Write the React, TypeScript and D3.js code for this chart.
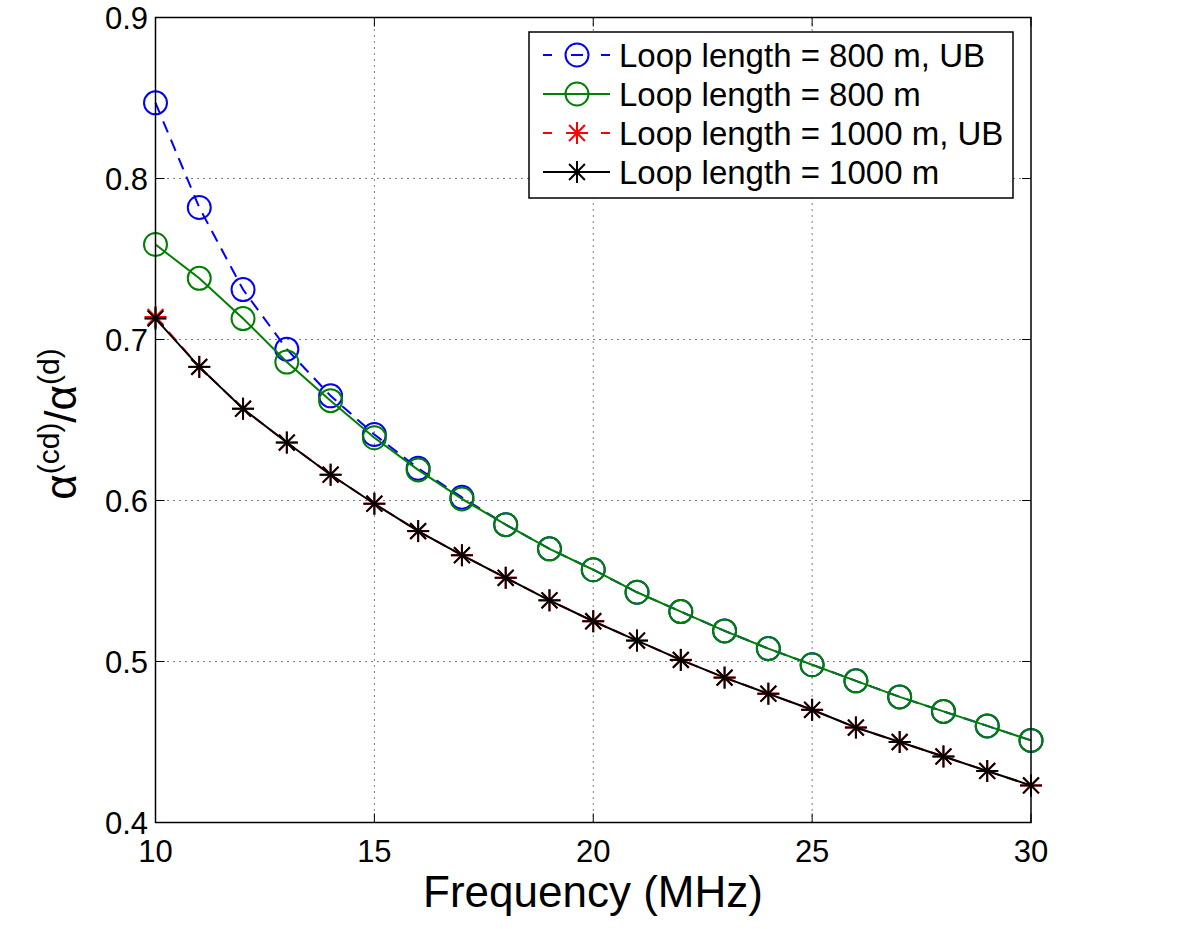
import React from "react";
import * as d3 from "d3";

const freqs = [10, 11, 12, 13, 14, 15, 16, 17, 18, 19, 20, 21, 22, 23, 24, 25, 26, 27, 28, 29, 30];
const loop800UB = [0.847, 0.782, 0.731, 0.694, 0.665, 0.641, 0.620, 0.602, 0.585, 0.570, 0.557, 0.543, 0.531, 0.519, 0.508, 0.498, 0.488, 0.478, 0.469, 0.460, 0.451];
const loop800 = [0.759, 0.738, 0.713, 0.686, 0.662, 0.639, 0.619, 0.601, 0.585, 0.570, 0.557, 0.543, 0.531, 0.519, 0.508, 0.498, 0.488, 0.478, 0.469, 0.460, 0.451];
const loop1000UB = [0.714, 0.683, 0.657, 0.636, 0.616, 0.598, 0.581, 0.566, 0.552, 0.538, 0.525, 0.513, 0.501, 0.490, 0.480, 0.470, 0.459, 0.450, 0.441, 0.432, 0.423];
const loop1000 = [0.713, 0.683, 0.657, 0.636, 0.616, 0.598, 0.581, 0.566, 0.552, 0.538, 0.525, 0.513, 0.501, 0.490, 0.480, 0.470, 0.459, 0.450, 0.441, 0.432, 0.423];
const xTicks = [10, 15, 20, 25, 30];
const yTicks = [0.4, 0.5, 0.6, 0.7, 0.8, 0.9];
const legendLabels = ["Loop length = 800 m, UB", "Loop length = 800 m", "Loop length = 1000 m, UB", "Loop length = 1000 m"];

const FONT = "'Liberation Sans', Arial, Helvetica, sans-serif";

const series = [
  { values: loop800UB, color: "#0000ff", dash: "12,8", marker: "circle", label: legendLabels[0] },
  { values: loop800, color: "#008000", dash: "", marker: "circle", label: legendLabels[1] },
  { values: loop1000UB, color: "#ff0000", dash: "12,8", marker: "star", label: legendLabels[2] },
  { values: loop1000, color: "#000000", dash: "", marker: "star", label: legendLabels[3] },
];

function Marker({ type, x, y, color }: { type: string; x: number; y: number; color: string }) {
  if (type === "circle") {
    return <circle cx={x} cy={y} r={11.5} fill="none" stroke={color} strokeWidth={2} />;
  }
  const s = 11;
  const d = s * 0.72;
  return (
    <g stroke={color} strokeWidth={2}>
      <line x1={x - s} y1={y} x2={x + s} y2={y} />
      <line x1={x} y1={y - s} x2={x} y2={y + s} />
      <line x1={x - d} y1={y - d} x2={x + d} y2={y + d} />
      <line x1={x - d} y1={y + d} x2={x + d} y2={y - d} />
    </g>
  );
}

export default function App() {
  const left = 155.5, right = 1031, top = 17.5, bottom = 822.5;
  const x = d3.scaleLinear().domain([10, 30]).range([left, right]);
  const y = d3.scaleLinear().domain([0.4, 0.9]).range([bottom, top]);
  const line = d3.line<number>().x((_, i) => x(freqs[i])).y((v) => y(v));
  const tick = 9;

  const lgX = 529, lgY = 32, lgW = 484, lgH = 166;
  const rowY = [55, 94, 133, 172];

  return (
    <svg width={1200} height={929} style={{ position: "absolute", left: 0, top: 0, background: "#fff" }}>
      <rect x={0} y={0} width={1200} height={929} fill="#fff" />
      {/* grid */}
      {xTicks.slice(1, -1).map((t) => (
        <line key={"gx" + t} x1={x(t)} x2={x(t)} y1={top} y2={bottom} stroke="#000" strokeWidth={1} strokeDasharray="1,5" />
      ))}
      {yTicks.slice(1, -1).map((t) => (
        <line key={"gy" + t} x1={left} x2={right} y1={y(t)} y2={y(t)} stroke="#000" strokeWidth={1} strokeDasharray="1,5" />
      ))}
      {/* ticks */}
      {xTicks.map((t) => (
        <g key={"tx" + t}>
          <line x1={x(t)} x2={x(t)} y1={bottom} y2={bottom - tick} stroke="#000" strokeWidth={1} />
          <line x1={x(t)} x2={x(t)} y1={top} y2={top + tick} stroke="#000" strokeWidth={1} />
          <text x={x(t)} y={862} textAnchor="middle" fontFamily={FONT} fontSize={31}>{t}</text>
        </g>
      ))}
      {yTicks.map((t) => (
        <g key={"ty" + t}>
          <line x1={left} x2={left + tick} y1={y(t)} y2={y(t)} stroke="#000" strokeWidth={1} />
          <line x1={right} x2={right - tick} y1={y(t)} y2={y(t)} stroke="#000" strokeWidth={1} />
          <text x={148} y={y(t) + 11.5} textAnchor="end" fontFamily={FONT} fontSize={31}>{t.toFixed(1)}</text>
        </g>
      ))}
      {/* series */}
      {series.map((s, si) => (
        <g key={"s" + si}>
          <path d={line(s.values) || ""} fill="none" stroke={s.color} strokeWidth={2} strokeDasharray={s.dash || undefined} />
          {s.values.map((v, i) => (
            <Marker key={i} type={s.marker} x={x(freqs[i])} y={y(v)} color={s.color} />
          ))}
        </g>
      ))}
      {/* axes box */}
      <rect x={left} y={top} width={right - left} height={bottom - top} fill="none" stroke="#000" strokeWidth={1.5} />
      {/* legend */}
      <rect x={lgX} y={lgY} width={lgW} height={lgH} fill="#fff" stroke="#000" strokeWidth={1.5} />
      {series.map((s, i) => (
        <g key={"lg" + i}>
          <line x1={543} x2={610} y1={rowY[i]} y2={rowY[i]} stroke={s.color} strokeWidth={2} strokeDasharray={s.dash ? "9,19,12,18,9,100" : undefined} />
          <Marker type={s.marker} x={577} y={rowY[i]} color={s.color} />
          <text x={619} y={rowY[i] + 11.5} fontFamily={FONT} fontSize={33}>{s.label}</text>
        </g>
      ))}
      {/* x label */}
      <text x={593} y={907} textAnchor="middle" fontFamily={FONT} fontSize={44}>Frequency (MHz)</text>
      {/* y label */}
      <text transform="translate(76,424) rotate(-90)" textAnchor="middle" fontFamily={FONT} fontSize={44}>
        <tspan>α</tspan>
        <tspan dy={-17} fontSize={30}>(cd)</tspan>
        <tspan dy={17}>/α</tspan>
        <tspan dy={-17} fontSize={30}>(d)</tspan>
      </text>
    </svg>
  );
}
